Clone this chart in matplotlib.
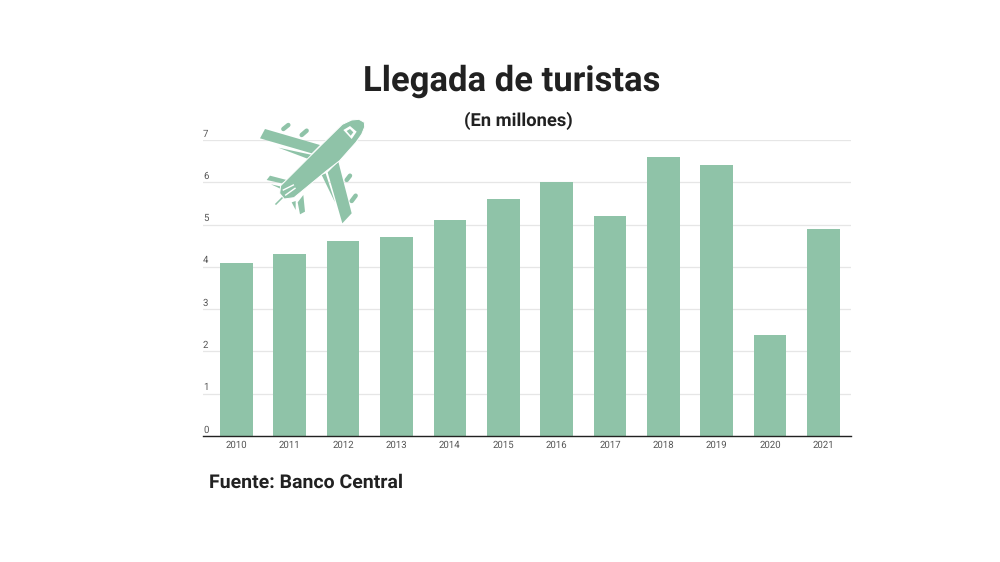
import matplotlib
matplotlib.use("Agg")
import matplotlib.pyplot as plt
from matplotlib.patches import Polygon

plt.rcParams['font.family'] = ['Roboto', 'DejaVu Sans']
plt.rcParams['text.hinting'] = 'no_hinting'

years = ['2010', '2011', '2012', '2013', '2014', '2015', '2016', '2017', '2018', '2019', '2020', '2021']
arrivals = [4.1, 4.3, 4.6, 4.7, 5.1, 5.6, 6.0, 5.2, 6.6, 6.4, 2.4, 4.9]
y_ticks = [0, 1, 2, 3, 4, 5, 6, 7]

GREEN = '#8fc3a8'

# plane outline, in crop pixels of the reference (decoration, not data)
plane_wings = [
    [(30, 42), (15, 70), (170, 115), (195, 90)],
    [(250, 140), (218, 172), (262, 325), (290, 295)],
    [(45, 182), (35, 195), (80, 205), (95, 195)],
    [(145, 240), (128, 262), (135, 298), (150, 290)],
    [(70, 98), (160, 132), (172, 120)],
    [(200, 180), (212, 175), (240, 262)],
    [(48, 208), (78, 222), (80, 215)],
    [(110, 262), (122, 285), (122, 258)],
]
plane_body = [(328, 22), (312, 13), (290, 15), (262, 28), (197, 92), (77, 212), (74, 235), (88, 252),
              (117, 248), (214, 168), (254, 137), (303, 82), (320, 58), (329, 36)]
plane_engines = [
    [(85, 42), (100, 30)], [(140, 60), (155, 47)],
    [(275, 195), (285, 182)], [(290, 258), (302, 242)],
]
plane_spike = [(63, 267), (85, 245)]
plane_window = [(265, 45), (285, 33), (305, 50), (290, 72)]
plane_window_in = [(275, 48), (285, 42), (295, 52), (287, 62)]
plane_tail_marks = [[(85, 225), (115, 210)], [(92, 240), (120, 220)]]


def to_px(pts):
    return [(255 + x / 3, 115 + y / 3) for x, y in pts]


def draw_plane(ax):
    for pts in plane_wings:
        ax.add_patch(Polygon(to_px(pts), closed=True, fc=GREEN, ec='none', zorder=4))
    for pts in plane_engines:
        xs, ys = zip(*to_px(pts))
        ax.plot(xs, ys, color=GREEN, lw=3.2, solid_capstyle='round', zorder=4)
    xs, ys = zip(*to_px(plane_spike))
    ax.plot(xs, ys, color=GREEN, lw=1.1, zorder=4)
    # white edge keeps the thin gap between body and wings
    ax.add_patch(Polygon(to_px(plane_body), closed=True, fc=GREEN, ec='white', lw=0.7, zorder=5))
    ax.add_patch(Polygon(to_px(plane_window), closed=True, fc='white', ec='none', zorder=6))
    ax.add_patch(Polygon(to_px(plane_window_in), closed=True, fc=GREEN, ec='none', zorder=7))
    for pts in plane_tail_marks:
        xs, ys = zip(*to_px(pts))
        ax.plot(xs, ys, color='white', lw=1.0, zorder=6)


fig = plt.figure(figsize=(10, 5.62), dpi=100, facecolor='white')
W, H = 1000, 562
ax = fig.add_axes([203 / W, 1 - 436 / H, 648 / W, 296 / H])
ax.bar(range(len(years)), arrivals, width=0.61, color=GREEN, zorder=2)

ax.set_xlim(-0.625, 11.515)
ax.set_ylim(0, 7)
ax.set_xticks(range(len(years)))
ax.set_xticklabels(years, fontsize=6.9, color='#555555')
ax.set_yticks(y_ticks)
ax.set_yticklabels([])
ax.tick_params(axis='both', length=0)
ax.tick_params(axis='x', pad=3.0)
ax.grid(axis='y', color='#e6e6e6', lw=0.9, zorder=1)
ax.set_axisbelow(True)
for side in ['top', 'left', 'right']:
    ax.spines[side].set_visible(False)
ax.spines['bottom'].set_color('#222222')
ax.spines['bottom'].set_linewidth(1.0)
ax.spines['bottom'].set_zorder(5)
# y labels sit just above their gridlines, at the left end
for t in y_ticks:
    ax.annotate(str(t), (0, t), xycoords=('axes fraction', 'data'), xytext=(0, 1),
                textcoords='offset points', ha='left', va='bottom', fontsize=6.9, color='#555555')

# overlay in reference pixels for the plane
ov = fig.add_axes([0, 0, 1, 1], facecolor='none')
ov.set_xlim(0, W)
ov.set_ylim(H, 0)
ov.axis('off')
draw_plane(ov)

fig.text(512 / W, 1 - 81 / H, 'Llegada de turistas', ha='center', va='center',
         fontsize=24.9, fontweight='bold', color='#212121')
fig.text(518 / W, 1 - 121 / H, '(En millones)', ha='center', va='center',
         fontsize=13.2, fontweight='bold', color='#212121')
fig.text(209 / W, 1 - 483 / H, 'Fuente: Banco Central', ha='left', va='center',
         fontsize=14, fontweight='bold', color='#212121')

fig.savefig('out.png', dpi=100)
